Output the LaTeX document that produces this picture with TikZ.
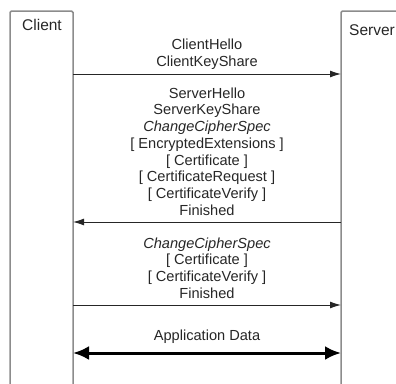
\documentclass[tikz,border=0pt]{standalone}
\usepackage{fontspec}
\setmainfont{Liberation Sans}
\usepackage{tikz}
\usetikzlibrary{positioning, arrows.meta}

\begin{document}
\begin{tikzpicture}[x=1pt, y=-1pt]
	% Define styles
	\tikzset{
		lifeline/.style={draw=black!45, line width=1.5pt, rounded corners=1.5pt},
		label/.style={font=\fontsize{15.5}{18}\selectfont, text=black!85, inner sep=0pt},
		msg/.style={font=\fontsize{14.6}{16.7}\selectfont, text=black!85, inner sep=0pt, align=center},
		line/.style={draw=black!85, line width=0.9pt, -{Latex[length=11pt, width=7pt]}},
		data/.style={draw=black, line width=3pt, {Latex[length=16pt, width=14pt]}-{Latex[length=16pt, width=14pt]}}
	}
	\useasboundingbox (0,0) rectangle (396,383);
	\clip (0,0) rectangle (396,383);
	
	% Lifelines
	\draw[lifeline] (10,400) -- (10,11) -- (73,11) -- (73,400);
	\draw[lifeline] (341,400) -- (341,11) -- (400,11);
	\node[label] (client) at (42,25) {Client};
	\node[label, anchor=west] (server) at (349,30) {Server};
	
	% Arrow ends
	\coordinate (c1) at (73,74);
	\coordinate (s1) at (341,74);
	\coordinate (c2) at (73,222);
	\coordinate (s2) at (341,222);
	\coordinate (c3) at (73,305);
	\coordinate (s3) at (341,305);
	\coordinate (c4) at (73,353);
	\coordinate (s4) at (341,353);
	
	% Messages
	\node[msg] (hello) at (207,54) {ClientHello\\ClientKeyShare};
	\node[msg] (reply) at (207,151.5) {ServerHello\\ServerKeyShare\\\textit{ChangeCipherSpec}\\{}[ EncryptedExtensions ]\\{}[ Certificate ]\\{}[ CertificateRequest ]\\{}[ CertificateVerify ]\\Finished};
	\node[msg] (fin) at (207,268) {\textit{ChangeCipherSpec}\\{}[ Certificate ]\\{}[ CertificateVerify ]\\Finished};
	\node[msg] (app) at (207,337) {Application Data};
	
	% Arrows
	\draw[line] (c1) -- (s1);
	\draw[line] (s2) -- (c2);
	\draw[line] (c3) -- (s3);
	\draw[data] (c4) -- (s4);
	
\end{tikzpicture}
\end{document}
